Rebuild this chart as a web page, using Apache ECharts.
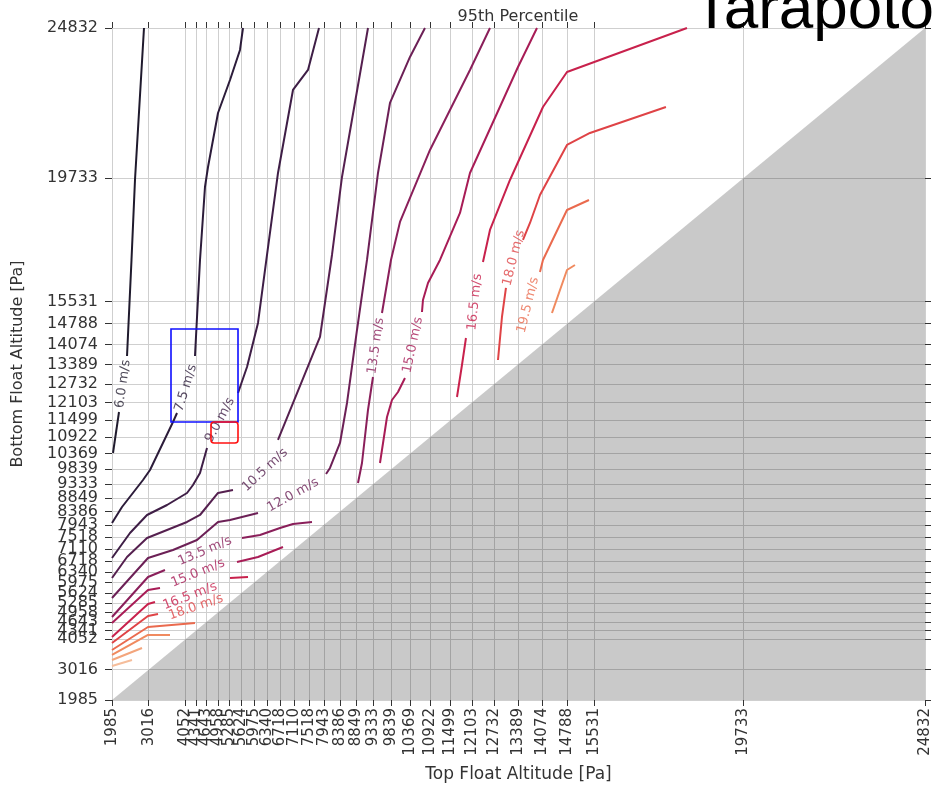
<!DOCTYPE html>
<html>
<head>
<meta charset="utf-8">
<script src="https://cdn.jsdelivr.net/npm/echarts@6/dist/echarts.min.js"></script>
<style>
  html, body { margin: 0; padding: 0; background: #ffffff; }
  #chart { width: 935px; height: 787px; }
</style>
</head>
<body>
<div id="chart"></div>
<script>
// Pressure levels used for both axes (ticks and grid lines), in Pa
const pressureTicks = [1985, 3016, 4052, 4341, 4643, 4958, 5285, 5624, 5975, 6340, 6718, 7110,
  7518, 7943, 8386, 8849, 9333, 9839, 10369, 10922, 11499, 12103, 12732, 13389, 14074, 14788,
  15531, 19733, 24832];

// Wind-speed contour levels (m/s)
const speedLevels = [6.0, 7.5, 9.0, 10.5, 12.0, 13.5, 15.0, 16.5, 18.0, 19.5, 21.0, 22.5, 24.0];

// Contour pieces for each level: [top float Pa, bottom float Pa]
const iso60 = [
  [[2884, 24832], [2631, 19665], [2533, 16945], [2407, 13681]],
  [[2182, 11777], [2013, 10383]]
];
const iso75 = [
  [[5666, 24832], [5582, 24085], [5301, 23065], [4964, 21943], [4683, 20107], [4598, 19427], [4458, 16945], [4317, 13681]],
  [[3812, 11743], [3699, 11437], [3053, 9805], [2856, 9465], [2266, 8547], [1985, 8003]]
];
const iso90 = [
  [[7802, 24832], [7493, 23405], [7071, 22725], [6650, 19903], [6341, 17115], [6088, 14803], [5779, 13307], [5526, 12423]],
  [[4655, 10553], [4458, 9703], [4261, 9295], [4093, 9023], [3531, 8615], [2969, 8275], [2491, 7663], [1985, 6813]]
];
const iso105 = [
  [[9179, 24832], [8448, 19767], [8167, 17115], [7830, 14327], [6650, 10825]],
  [[5385, 9125], [4964, 9023], [4458, 8275], [4093, 8037], [3531, 7765], [2969, 7493], [2407, 6847], [1985, 6133]]
];
const iso120 = [
  [[10780, 24832], [10359, 23847], [9797, 22283], [9460, 19903], [9151, 16945], [8870, 14565], [8589, 12083], [8392, 10723], [8111, 9873], [8000, 9669]],
  [[6088, 8343], [5301, 8105], [4964, 8037], [4374, 7425], [3699, 7085], [2997, 6813], [1985, 5453]]
];
const iso135 = [
  [[12607, 24832], [12045, 23405], [11202, 21365], [10921, 20685], [10078, 18237], [9825, 16945], [9572, 15143]],
  [[9319, 12967], [9179, 11845], [9010, 10043], [8898, 9363]],
  [[1985, 4807], [2997, 6167], [3474, 6405]],
  [[5638, 7493], [6144, 7595], [6706, 7833], [7071, 7969], [7605, 8037]]
];
const iso150 = [
  [[13928, 24832], [13394, 23507], [12045, 19903], [11764, 18543], [11202, 16945], [10865, 16163], [10724, 15585], [10696, 15177]],
  [[10218, 12933], [10022, 12457], [9853, 12185], [9713, 11607], [9516, 10043]],
  [[1985, 4603], [2997, 5725], [3334, 5793]],
  [[5498, 6677], [6088, 6847], [6790, 7187]]
];
const iso165 = [
  [[18143, 24832], [14771, 23337], [14096, 22147], [13169, 19665], [12607, 17965], [12410, 16877]],
  [[11932, 14293], [11820, 13375], [11680, 12287]],
  [[1985, 4127], [2997, 5249], [3193, 5317]],
  [[5301, 6133], [5807, 6167]]
];
const iso180 = [
  [[17552, 22147], [15417, 21263], [14771, 20855], [14012, 19155], [13731, 18203], [13534, 17625]],
  [[13056, 15993], [12944, 15007], [12832, 13545]],
  [[1985, 3923], [2997, 4841], [3278, 4909]]
];
const iso195 = [
  [[15389, 18985], [14771, 18645], [14096, 16945], [14012, 16537]],
  [[1985, 3685], [2997, 4467], [4317, 4603]]
];
const iso210 = [
  [[14995, 16775], [14771, 16605], [14349, 15143]],
  [[1985, 3515], [2997, 4195], [3615, 4195]]
];
const iso225 = [[[1985, 3345], [2828, 3753]]];
const iso240 = [[[1985, 3141], [2547, 3345]]];

const contourPieces = [iso60, iso75, iso90, iso105, iso120, iso135, iso150, iso165, iso180, iso195, iso210, iso225, iso240];

// Inline contour labels: level, anchor point [top Pa, bottom Pa], text angle
const labelSpots = [
  { level: 6.0,  at: [2294, 12729],  angle: 82 },
  { level: 7.5,  at: [4064, 12593],  angle: 73 },
  { level: 9.0,  at: [5020, 11505],  angle: 62 },
  { level: 10.5, at: [6284, 9805],   angle: 43 },
  { level: 12.0, at: [7071, 8955],   angle: 29 },
  { level: 13.5, at: [9403, 14021],  angle: 82 },
  { level: 15.0, at: [10443, 14055], angle: 78 },
  { level: 16.5, at: [12185, 15517], angle: 84 },
  { level: 18.0, at: [13281, 17013], angle: 76 },
  { level: 19.5, at: [13675, 15415], angle: 76 },
  { level: 13.5, at: [4598, 7051],   angle: 23 },
  { level: 15.0, at: [4402, 6303],   angle: 22 },
  { level: 16.5, at: [4177, 5521],   angle: 21 },
  { level: 18.0, at: [4345, 5147],   angle: 19 }
];

// Region where the bottom float would sit above the top float
const excludedRegion = [[1985, 1985], [24832, 1985], [24832, 24832]];

// Highlight boxes: [[left Pa, upper Pa], [right Pa, lower Pa]]
const blueBox = [[3643, 14599], [5526, 11437]];
const redBox = [[4767, 11437], [5526, 10723]];

// Colour ramp (dark purple to pale orange), one per level
const levelColors = ['#1f1a2d', '#2c1c3a', '#3e1e46', '#55204f', '#6c2056', '#8a1f5a', '#a81c56',
  '#c8214c', '#df4346', '#ea6a4e', '#f08a5f', '#f3a57c', '#f5bd9b'];

const P_MIN = pressureTicks[0];
const P_MAX = pressureTicks[pressureTicks.length - 1];

const chart = echarts.init(document.getElementById('chart'), null, { renderer: 'canvas' });

const series = [];

series.push({
  type: 'custom',
  silent: true,
  z: 1,
  data: [0],
  renderItem: function (params, api) {
    return {
      type: 'polygon',
      shape: { points: excludedRegion.map(p => api.coord(p)) },
      style: { fill: 'rgba(0,0,0,0.21)' }
    };
  }
});

contourPieces.forEach(function (pieces, i) {
  pieces.forEach(function (piece) {
    series.push({
      type: 'line',
      data: piece,
      showSymbol: false,
      symbol: 'none',
      silent: true,
      z: 3,
      lineStyle: { color: levelColors[i], width: 2 }
    });
  });
});

series.push({
  type: 'scatter',
  symbolSize: 1,
  silent: true,
  z: 4,
  itemStyle: { color: 'rgba(0,0,0,0)' },
  label: {
    show: true,
    position: 'inside',
    formatter: '{b}',
    fontSize: 13,
    fontFamily: 'DejaVu Sans'
  },
  data: labelSpots.map(function (s) {
    const idx = speedLevels.indexOf(s.level);
    return {
      name: s.level.toFixed(1) + ' m/s',
      value: s.at,
      label: { rotate: s.angle, color: levelColors[idx] }
    };
  })
});

function boxSeries(box, color, radius) {
  return {
    type: 'custom',
    silent: true,
    z: 5,
    data: [0],
    renderItem: function (params, api) {
      const a = api.coord(box[0]);
      const b = api.coord(box[1]);
      return {
        type: 'rect',
        shape: { x: a[0], y: a[1], width: b[0] - a[0], height: b[1] - a[1], r: radius },
        style: { fill: 'none', stroke: color, lineWidth: 1.6 }
      };
    }
  };
}
series.push(boxSeries(blueBox, '#1010ff', 0));
series.push(boxSeries(redBox, '#ff1010', 3));

const tickFont = { fontFamily: 'DejaVu Sans', color: '#333333' };

const option = {
  animation: false,
  backgroundColor: '#ffffff',
  grid: { left: 112, right: 10, top: 28, bottom: 87, containLabel: false, outerBoundsMode: 'none' },
  xAxis: [
    {
      type: 'value', min: P_MIN, max: P_MAX, position: 'bottom',
      name: 'Top Float Altitude [Pa]', nameLocation: 'middle', nameGap: 66,
      nameTextStyle: { fontSize: 17, fontFamily: 'DejaVu Sans', color: '#333333' },
      axisLine: { show: false },
      axisTick: { show: true, customValues: pressureTicks, length: 6, lineStyle: { color: '#333333', width: 1 } },
      axisLabel: Object.assign({ customValues: pressureTicks, rotate: 90, fontSize: 15, margin: 8,
        formatter: v => String(v) }, tickFont),
      splitLine: { show: true, lineStyle: { color: '#cfcfcf', width: 1 } }
    },
    {
      type: 'value', min: P_MIN, max: P_MAX, position: 'top',
      axisLine: { show: false },
      axisTick: { show: true, customValues: pressureTicks, length: 6, lineStyle: { color: '#333333', width: 1 } },
      axisLabel: { show: false },
      splitLine: { show: false }
    }
  ],
  yAxis: [
    {
      type: 'value', min: P_MIN, max: P_MAX, position: 'left',
      name: 'Bottom Float Altitude [Pa]', nameLocation: 'middle', nameGap: 86, nameRotate: 90,
      nameTextStyle: { fontSize: 16, fontFamily: 'DejaVu Sans', color: '#333333' },
      axisLine: { show: false },
      axisTick: { show: true, customValues: pressureTicks, length: 7, lineStyle: { color: '#333333', width: 1 } },
      axisLabel: Object.assign({ customValues: pressureTicks, fontSize: 16, margin: 14,
        formatter: v => String(v) }, tickFont),
      splitLine: { show: true, lineStyle: { color: '#cfcfcf', width: 1 } }
    },
    {
      type: 'value', min: P_MIN, max: P_MAX, position: 'right',
      axisLine: { show: false },
      axisTick: { show: true, customValues: pressureTicks, length: 6, lineStyle: { color: '#333333', width: 1 } },
      axisLabel: { show: false },
      splitLine: { show: false }
    }
  ],
  graphic: [
    {
      type: 'text', x: 518, y: 17, z: 10,
      style: { text: '95th Percentile', fontSize: 16, fontFamily: 'DejaVu Sans', fill: '#333333',
        textAlign: 'center', textVerticalAlign: 'middle' }
    },
    {
      type: 'text', x: 934, y: 42, z: 10,
      style: { text: 'Tarapoto', fontSize: 62, fontFamily: 'Liberation Sans', fill: '#000000',
        textAlign: 'right', textVerticalAlign: 'bottom' }
    }
  ],
  series: series
};

chart.setOption(option);
</script>
</body>
</html>
